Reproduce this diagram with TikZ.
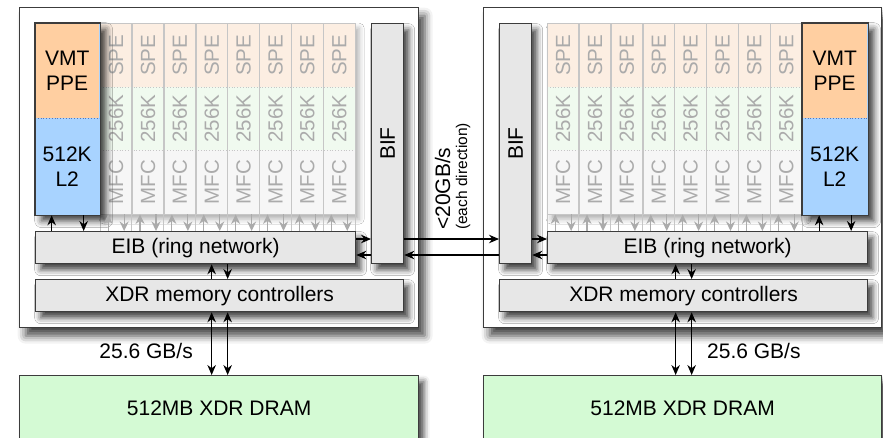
\documentclass[tikz,border=0pt]{standalone}
\usepackage{fontspec}
\setmainfont{Liberation Sans}
\usetikzlibrary{arrows.meta,shadows.blur}

\definecolor{edge}{HTML}{3C3C3C}
\definecolor{boxfill}{HTML}{E7E7E7}
\definecolor{ppeorange}{HTML}{FFCFA1}
\definecolor{l2blue}{HTML}{A8D3FF}
\definecolor{dramgreen}{HTML}{D4FAD4}
\definecolor{speorange}{HTML}{FCEEE2}
\definecolor{lsgreen}{HTML}{F0FAEF}
\definecolor{mfcgray}{HTML}{F6F6F6}
\definecolor{faint}{HTML}{C6C6C6}
\definecolor{fainttext}{HTML}{ABABAB}
\definecolor{divblue}{HTML}{5577BB}

\tikzset{
  softshadow/.style={blur shadow={shadow xshift=5pt, shadow yshift=-6pt,
      shadow blur radius=6pt, shadow opacity=75}},
  chip/.style={draw=edge, line width=1.3pt, fill=white,
    blur shadow={shadow xshift=6pt, shadow yshift=-8pt,
      shadow blur radius=8pt, shadow opacity=75}},
  rect/.style={anchor=north west, inner sep=0pt},
  block/.style={rect, draw=edge, line width=1.3pt, fill=boxfill, softshadow,
    font=\fontsize{21}{25}\selectfont},
  specell/.style={rect, minimum width=31.875pt},
  spetext/.style={rotate=90, text=fainttext, inner sep=0pt,
    font=\fontsize{20.5}{24}\selectfont},
  spegroup/.style={rect, fill=white, minimum width=255pt, minimum height=191pt,
    blur shadow={shadow xshift=4pt, shadow yshift=-5pt,
      shadow blur radius=5pt, shadow opacity=30}},
  ppetext/.style={align=center, inner sep=0pt,
    font=\fontsize{21}{25}\selectfont},
  lbl/.style={inner sep=0pt, font=\fontsize{21}{25}\selectfont},
  arr/.style={line width=1.1pt, draw=black,
    -{Stealth[length=10pt,width=8.5pt]}},
  arrboth/.style={line width=1.1pt, draw=black,
    {Stealth[length=10pt,width=8.5pt]}-{Stealth[length=10pt,width=8.5pt]}},
  garr/.style={line width=1.2pt, draw=fainttext,
    -{Stealth[length=9.5pt,width=9pt]}},
}

\begin{document}
\begin{tikzpicture}[x=1pt,y=-1pt]
\useasboundingbox (0,0) rectangle (883,437);
\clip (0,0) rectangle (883,437);

% ---------------- chip frames ----------------
\node[rect, chip, minimum width=399pt, minimum height=320pt] (chipL) at (19,7) {};
\node[rect, chip, minimum width=398pt, minimum height=320pt] (chipR) at (483,7) {};

% ---------------- DRAM ----------------
\node[block, fill=dramgreen, minimum width=399pt, minimum height=66pt] (dramL) at (19,375) {512MB XDR DRAM};
\node[block, fill=dramgreen, minimum width=398pt, minimum height=66pt] (dramR) at (483,375) {512MB XDR DRAM};

% ---------------- SPE columns (left chip) ----------------
\node[spegroup] (speblkL) at (100,23) {};
\foreach \i in {0,...,7} {
  \pgfmathsetmacro\cx{100+\i*31.875}
  \node[specell, fill=speorange, minimum height=64pt] (speL\i) at (\cx,23) {};
  \node[specell, fill=lsgreen,   minimum height=63pt] (lsL\i)  at (\cx,87) {};
  \node[specell, fill=mfcgray,   minimum height=64pt] (mfcL\i) at (\cx,150) {};
  \node[spetext] (tspeL\i) at (speL\i) {SPE};
  \node[spetext] (tlsL\i)  at (lsL\i)  {256K};
  \node[spetext] (tmfcL\i) at (mfcL\i) {MFC};
}
% ---------------- SPE columns (right chip) ----------------
\node[spegroup] (speblkR) at (547,23) {};
\foreach \i in {0,...,7} {
  \pgfmathsetmacro\cx{547+\i*31.875}
  \node[specell, fill=speorange, minimum height=64pt] (speR\i) at (\cx,23) {};
  \node[specell, fill=lsgreen,   minimum height=63pt] (lsR\i)  at (\cx,87) {};
  \node[specell, fill=mfcgray,   minimum height=64pt] (mfcR\i) at (\cx,150) {};
  \node[spetext] (tspeR\i) at (speR\i) {SPE};
  \node[spetext] (tlsR\i)  at (lsR\i)  {256K};
  \node[spetext] (tmfcR\i) at (mfcR\i) {MFC};
}

% ---------------- BIF, EIB, XDR controllers ----------------
\node[block, minimum width=32pt, minimum height=240pt] (bifL) at (371,23) {};
\node[block, minimum width=32pt, minimum height=240pt] (bifR) at (499,23) {};
\node[lbl, rotate=90] (tbifL) at (bifL) {BIF};
\node[lbl, rotate=90] (tbifR) at (bifR) {BIF};

\node[block, minimum width=320pt, minimum height=32pt] (eibL) at (35,231) {EIB (ring network)};
\node[block, minimum width=320pt, minimum height=32pt] (eibR) at (547,231) {EIB (ring network)};

\node[block, minimum width=368pt, minimum height=32pt] (xdrL) at (35,279) {XDR memory controllers};
\node[block, minimum width=368pt, minimum height=32pt] (xdrR) at (499,279) {XDR memory controllers};

% column frames, row dividers and the short separators down to the EIB
\foreach \s in {L,R} {
  \foreach \i in {0,...,7} {
    \draw[faint, line width=0.9pt] (spe\s\i.north west) rectangle (mfc\s\i.south east);
    \draw[faint, line width=0.8pt] (mfc\s\i.south west) -- (mfc\s\i.south west |- eib\s.north);
  }
  \draw[faint, line width=0.8pt] (mfc\s7.south east) -- (mfc\s7.south east |- eib\s.north);
  \draw[faint, line width=0.8pt, dotted] (spe\s0.south west) -- (spe\s7.south east);
  \draw[faint, line width=0.8pt, dotted] (ls\s0.south west) -- (ls\s7.south east);
}

% ---------------- PPE with L2 ----------------
\node[rect, fill=l2blue, line width=1.3pt, minimum width=64pt, minimum height=191pt,
  blur shadow={shadow xshift=6pt, shadow yshift=-6pt, shadow blur radius=7pt, shadow opacity=80}] (pmL) at (35,23) {};
\node[rect, fill=ppeorange, minimum width=64pt, minimum height=95pt] (ppeL) at (35,23) {};
\node[rect, minimum width=64pt, minimum height=96pt] (l2L) at (35,118) {};
\node[ppetext] (tppeL) at (ppeL) {VMT\\PPE};
\node[ppetext] (tl2L) at (l2L) {512K\\L2};
\draw[divblue, line width=0.8pt, dotted] (ppeL.south west) -- (ppeL.south east);
\draw[edge, line width=1.3pt] (pmL.north west) rectangle (pmL.south east);

\node[rect, fill=l2blue, line width=1.3pt, minimum width=65pt, minimum height=191pt,
  blur shadow={shadow xshift=6pt, shadow yshift=-6pt, shadow blur radius=7pt, shadow opacity=80}] (pmR) at (802,23) {};
\node[rect, fill=ppeorange, minimum width=65pt, minimum height=95pt] (ppeR) at (802,23) {};
\node[rect, minimum width=65pt, minimum height=96pt] (l2R) at (802,118) {};
\node[ppetext] (tppeR) at (ppeR) {VMT\\PPE};
\node[ppetext] (tl2R) at (l2R) {512K\\L2};
\draw[divblue, line width=0.8pt, dotted] (ppeR.south west) -- (ppeR.south east);
\draw[edge, line width=1.3pt] (pmR.north west) rectangle (pmR.south east);

% ---------------- SPE <-> EIB (faint) ----------------
\foreach \s in {L,R} {
  \foreach \i in {0,...,7} {
    \coordinate (gu\s\i) at ([xshift=-8pt]mfc\s\i.south);
    \coordinate (gd\s\i) at ([xshift=8pt]mfc\s\i.south);
    \draw[garr] (gu\s\i |- eib\s.north) -- (gu\s\i);
    \draw[garr] (gd\s\i) -- (gd\s\i |- eib\s.north);
  }
}

% ---------------- PPE <-> EIB ----------------
\foreach \s in {L,R} {
  \coordinate (pu\s) at ([xshift=-16pt]pm\s.south);
  \coordinate (pd\s) at ([xshift=16pt]pm\s.south);
  \draw[arr] (pu\s |- eib\s.north) -- (pu\s);
  \draw[arr] (pd\s) -- (pd\s |- eib\s.north);
}

% ---------------- EIB <-> XDR, XDR <-> DRAM ----------------
\foreach \s in {L,R} {
  \coordinate (mu\s) at ([xshift=-8pt]xdr\s.north);
  \coordinate (md\s) at ([xshift=8pt]xdr\s.north);
  \draw[arr] (mu\s) -- (mu\s |- eib\s.south);
  \draw[arr] (md\s |- eib\s.south) -- (md\s);
  \draw[arrboth] (mu\s |- xdr\s.south) -- (mu\s |- dram\s.north);
  \draw[arrboth] (md\s |- xdr\s.south) -- (md\s |- dram\s.north);
}

% ---------------- EIB <-> BIF <-> BIF <-> EIB ----------------
\coordinate (linkup) at (0,239);
\coordinate (linkdn) at (0,255);
\draw[arr] (eibL.east |- linkup) -- (bifL.west |- linkup);
\draw[arr] (bifL.west |- linkdn) -- (eibL.east |- linkdn);
\draw[arr] (bifL.east |- linkup) -- (bifR.west |- linkup);
\draw[arr] (bifR.west |- linkdn) -- (bifL.east |- linkdn);
\draw[arr] (bifR.east |- linkup) -- (eibR.west |- linkup);
\draw[arr] (eibR.west |- linkdn) -- (bifR.east |- linkdn);

% ---------------- bandwidth labels ----------------
\node[lbl, anchor=east] (bwL) at (193,351) {25.6 GB/s};
\node[lbl, anchor=west] (bwR) at (707,351) {25.6 GB/s};
\node[lbl, rotate=90, anchor=base west] (bwlink) at (450,230) {<20GB/s};
\node[inner sep=0pt, rotate=90, anchor=base west, font=\fontsize{15.5}{18}\selectfont]
  (bwnote) at (467,230) {(each direction)};
\end{tikzpicture}
\end{document}
